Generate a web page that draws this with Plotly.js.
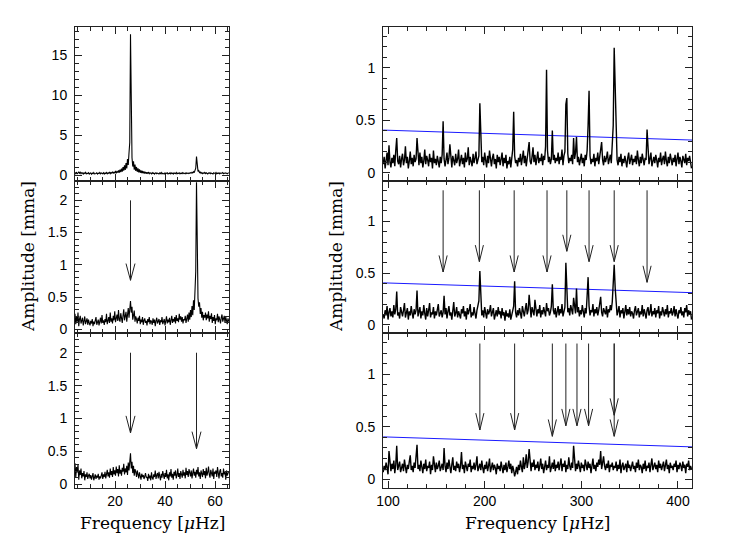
<!DOCTYPE html>
<html><head><meta charset="utf-8">
<script src="https://cdn.plot.ly/plotly-3.0.1.min.js"></script>
<style>html,body{margin:0;padding:0;background:#fff}#chart{width:736px;height:550px}</style>
</head><body><div id="chart"></div>
<script>
// ---------- frequency grids (muHz) ----------
const leftStart = 4.0, leftStep = 0.3;
const rightStart = 95, rightStep = 1.0;

// ---------- left column amplitudes (mma) ----------
const ampTopLeft = [
0.35,0.22,0.41,0.18,0.30,0.45,0.27,0.38,0.20,0.33,0.29,0.16,0.31,0.24,0.37,0.19,0.28,0.22,0.34,0.17,
0.26,0.31,0.15,0.29,0.21,0.35,0.18,0.27,0.24,0.32,0.16,0.28,0.23,0.36,0.19,0.30,0.25,0.21,0.33,0.18,
0.29,0.24,0.37,0.20,0.31,0.26,0.42,0.22,0.35,0.28,0.47,0.25,0.39,0.31,0.55,0.27,0.48,0.36,0.62,0.33,
0.71,0.40,0.85,0.46,1.02,0.58,1.25,0.69,1.55,0.88,2.05,1.30,2.80,4.10,
17.6,
3.90,2.20,1.10,1.75,0.70,1.35,0.55,1.05,0.45,0.88,0.38,0.74,0.33,0.62,0.29,0.55,0.26,0.50,0.24,0.44,0.22,
0.40,0.25,0.36,0.21,0.33,0.28,0.19,0.34,0.23,0.30,0.17,0.27,0.32,0.20,0.29,0.24,0.18,0.31,0.22,0.35,
0.19,0.27,0.24,0.16,0.30,0.21,0.28,0.33,0.18,0.25,0.29,0.20,0.34,0.23,0.27,0.17,0.31,0.24,0.22,0.36,
0.19,0.28,0.25,0.32,0.18,0.27,0.23,0.35,0.21,0.30,0.26,0.19,0.33,0.24,0.29,0.22,0.31,0.26,0.34,0.28,
0.38,0.30,0.46,0.35,0.62,0.90,
2.35,
0.85,0.50,0.60,0.34,0.42,0.26,0.35,0.22,0.31,0.26,0.37,0.22,0.33,0.28,0.19,0.31,0.25,0.35,0.21,0.29,
0.24,0.18,0.32,0.27,0.22,0.36,0.20,0.28,0.25,0.33,0.19,0.30,0.23,0.27,0.35,0.21,0.29,0.24,0.31,0.26,0.20,0.28,0.34
];
const ampMidLeft = [
0.24,0.08,0.19,0.12,0.26,0.05,0.16,0.21,0.09,0.14,0.18,0.06,0.13,0.20,0.08,0.11,0.17,0.07,0.15,0.10,
0.06,0.13,0.09,0.16,0.05,0.12,0.08,0.14,0.19,0.07,0.11,0.15,0.06,0.13,0.18,0.09,0.22,0.10,0.14,0.07,
0.16,0.11,0.24,0.08,0.13,0.19,0.10,0.26,0.12,0.17,0.09,0.21,0.14,0.28,0.11,0.18,0.23,0.13,0.30,0.15,
0.12,0.25,0.17,0.10,0.21,0.31,0.14,0.19,0.27,0.12,0.24,0.33,0.18,0.29,
0.44,
0.26,0.35,0.15,0.22,0.29,0.12,0.20,0.16,0.09,0.18,0.13,0.21,0.08,0.15,0.11,0.19,0.07,0.14,0.17,0.10,0.13,
0.06,0.16,0.11,0.19,0.08,0.14,0.12,0.07,0.17,0.10,0.15,0.05,0.13,0.18,0.09,0.12,0.16,0.07,0.14,0.11,
0.19,0.08,0.13,0.16,0.06,0.12,0.20,0.09,0.15,0.11,0.18,0.07,0.14,0.21,0.10,0.16,0.12,0.19,0.09,0.22,
0.13,0.17,0.11,0.24,0.15,0.20,0.12,0.19,0.09,0.16,0.14,0.21,0.10,0.18,0.23,0.12,0.26,0.15,0.30,0.19,
0.36,0.22,0.45,0.30,0.57,0.90,
2.28,
0.85,0.48,0.35,0.42,0.24,0.33,0.18,0.27,0.14,0.22,0.18,0.26,0.14,0.23,0.17,0.28,0.12,0.21,0.16,0.25,
0.10,0.19,0.13,0.22,0.08,0.17,0.14,0.24,0.11,0.20,0.15,0.09,0.18,0.23,0.12,0.16,0.21,0.10,0.19,0.14,0.08,0.17,0.12
];
const ampBotLeft = [
0.32,0.10,0.26,0.18,0.30,0.07,0.21,0.14,0.24,0.09,0.17,0.12,0.20,0.06,0.15,0.11,0.18,0.08,0.13,0.16,
0.09,0.14,0.07,0.12,0.17,0.06,0.11,0.15,0.08,0.13,0.10,0.16,0.07,0.12,0.09,0.14,0.18,0.08,0.15,0.11,
0.19,0.09,0.16,0.22,0.12,0.18,0.10,0.24,0.14,0.20,0.11,0.26,0.15,0.21,0.13,0.27,0.17,0.23,0.12,0.29,
0.16,0.22,0.13,0.25,0.19,0.31,0.15,0.24,0.18,0.28,0.14,0.33,0.21,0.30,
0.47,
0.24,0.34,0.17,0.28,0.13,0.23,0.19,0.11,0.21,0.15,0.09,0.18,0.13,0.07,0.16,0.11,0.14,0.08,0.12,0.17,0.10,
0.11,0.05,0.16,0.09,0.13,0.06,0.18,0.10,0.07,0.15,0.11,0.21,0.08,0.14,0.17,0.09,0.19,0.12,0.06,0.16,
0.10,0.20,0.13,0.08,0.17,0.11,0.22,0.09,0.15,0.06,0.18,0.12,0.23,0.10,0.16,0.07,0.19,0.13,0.21,0.09,
0.14,0.24,0.11,0.17,0.08,0.20,0.15,0.10,0.22,0.13,0.18,0.09,0.25,0.14,0.20,0.11,0.23,0.16,0.12,0.21,
0.09,0.17,0.24,0.13,0.19,0.10,0.22,0.15,0.26,0.12,0.18,0.08,0.21,0.16,0.11,0.23,0.14,0.20,0.09,0.25,
0.13,0.18,0.27,0.15,0.10,0.22,0.17,0.12,0.24,0.08,0.19,0.16,0.21,0.11,0.26,0.14,0.09,0.20,0.23,0.12,
0.17,0.10,0.24,0.15,0.19,0.07,0.21,0.13,0.16,0.20
];

// ---------- right column amplitudes (mma) ----------
const ampTopRight = [
0.08,0.15,0.04,0.12,0.19,0.07,0.26,0.10,0.05,0.14,0.09,0.17,0.06,0.21,0.33,0.11,0.08,0.16,0.05,0.13,
0.18,0.07,0.12,0.25,0.09,0.15,0.04,0.11,0.20,0.08,0.14,0.06,0.17,0.10,0.13,0.33,0.12,0.07,0.19,0.09,
0.15,0.05,0.11,0.22,0.08,0.16,0.12,0.06,0.18,0.10,0.14,0.04,0.21,0.09,0.13,0.07,0.16,0.11,0.05,0.15,
0.09,0.17,0.49,0.13,0.06,0.12,0.19,0.08,0.14,0.27,0.10,0.05,0.16,0.11,0.07,0.18,0.09,0.13,0.22,0.06,
0.12,0.17,0.08,0.14,0.05,0.19,0.10,0.13,0.24,0.07,0.15,0.11,0.06,0.18,0.09,0.14,0.20,0.08,0.12,0.16,
0.66,0.35,0.10,0.15,0.07,0.19,0.12,0.05,0.16,0.09,0.21,0.11,0.06,0.14,0.18,0.08,0.13,0.04,0.17,0.10,
0.15,0.07,0.12,0.19,0.06,0.14,0.09,0.17,0.04,0.11,0.08,0.15,0.05,0.13,0.22,0.58,0.16,0.09,0.12,0.06,
0.14,0.10,0.18,0.07,0.12,0.21,0.09,0.16,0.06,0.13,0.19,0.29,0.11,0.08,0.15,0.24,0.10,0.17,0.07,0.13,
0.20,0.09,0.14,0.11,0.18,0.07,0.16,0.12,0.25,0.98,0.21,0.10,0.15,0.08,0.13,0.40,0.12,0.17,0.09,0.14,
0.11,0.19,0.08,0.15,0.12,0.22,0.07,0.16,0.20,0.65,0.71,0.18,0.09,0.14,0.11,0.17,0.08,0.33,0.13,0.19,
0.34,0.10,0.15,0.07,0.13,0.18,0.09,0.14,0.06,0.17,0.12,0.21,0.45,0.78,0.16,0.08,0.13,0.10,0.18,0.06,
0.14,0.11,0.19,0.08,0.15,0.22,0.29,0.12,0.07,0.16,0.10,0.14,0.20,0.08,0.13,0.17,0.09,0.24,0.45,1.19,
0.80,0.22,0.12,0.07,0.15,0.10,0.18,0.06,0.13,0.09,0.16,0.11,0.05,0.14,0.19,0.08,0.12,0.17,0.07,0.13,
0.10,0.16,0.08,0.21,0.12,0.06,0.15,0.09,0.18,0.11,0.07,0.14,0.12,0.41,0.16,0.08,0.13,0.19,0.06,0.11,
0.15,0.09,0.17,0.12,0.05,0.14,0.10,0.19,0.07,0.13,0.16,0.08,0.20,0.11,0.06,0.15,0.09,0.18,0.12,0.07,
0.14,0.10,0.17,0.06,0.13,0.19,0.08,0.15,0.11,0.05,0.16,0.12,0.09,0.18,0.07,0.14,0.11,0.16,0.08,0.04
];
const ampMidRight = [
0.10,0.06,0.14,0.09,0.18,0.05,0.12,0.16,0.08,0.13,0.07,0.19,0.10,0.15,0.32,0.09,0.12,0.06,0.17,0.11,
0.08,0.14,0.21,0.07,0.12,0.16,0.05,0.13,0.09,0.18,0.11,0.06,0.15,0.10,0.14,0.33,0.08,0.12,0.17,0.06,
0.13,0.09,0.19,0.11,0.05,0.16,0.08,0.14,0.21,0.07,0.12,0.10,0.17,0.06,0.13,0.09,0.15,0.20,0.08,0.11,
0.14,0.07,0.12,0.28,0.10,0.16,0.06,0.13,0.18,0.09,0.12,0.05,0.15,0.22,0.08,0.11,0.17,0.07,0.13,0.10,
0.06,0.15,0.11,0.18,0.08,0.13,0.05,0.16,0.10,0.14,0.20,0.07,0.12,0.09,0.17,0.11,0.06,0.14,0.19,0.23,
0.52,0.21,0.09,0.14,0.07,0.17,0.11,0.06,0.15,0.10,0.13,0.19,0.08,0.12,0.16,0.05,0.11,0.14,0.08,0.17,
0.10,0.13,0.06,0.16,0.09,0.12,0.04,0.14,0.08,0.11,0.07,0.15,0.05,0.10,0.13,0.18,0.42,0.12,0.07,0.14,
0.09,0.16,0.11,0.06,0.18,0.13,0.08,0.15,0.21,0.10,0.14,0.29,0.12,0.07,0.17,0.11,0.09,0.24,0.13,0.08,
0.15,0.11,0.19,0.07,0.14,0.10,0.17,0.12,0.08,0.21,0.13,0.16,0.09,0.12,0.18,0.39,0.14,0.10,0.16,0.07,
0.13,0.18,0.09,0.15,0.11,0.20,0.08,0.14,0.17,0.60,0.24,0.12,0.16,0.09,0.19,0.13,0.10,0.26,0.15,0.11,
0.35,0.12,0.17,0.08,0.14,0.10,0.19,0.13,0.07,0.16,0.11,0.28,0.46,0.18,0.09,0.14,0.12,0.20,0.08,0.15,
0.11,0.17,0.09,0.14,0.20,0.27,0.12,0.08,0.16,0.13,0.10,0.18,0.07,0.15,0.12,0.19,0.14,0.22,0.50,0.58,
0.36,0.15,0.09,0.13,0.18,0.07,0.14,0.11,0.16,0.06,0.12,0.19,0.09,0.15,0.10,0.17,0.08,0.13,0.11,0.06,
0.14,0.18,0.09,0.12,0.16,0.07,0.13,0.10,0.19,0.08,0.15,0.11,0.06,0.14,0.17,0.09,0.12,0.20,0.08,0.13,
0.10,0.16,0.07,0.14,0.11,0.18,0.06,0.13,0.09,0.17,0.12,0.08,0.15,0.10,0.19,0.07,0.13,0.11,0.16,0.09,
0.12,0.18,0.08,0.15,0.10,0.06,0.14,0.11,0.17,0.09,0.13,0.07,0.16,0.12,0.19,0.08,0.14,0.10,0.13,0.05
];
const ampBotRight = [
0.07,0.13,0.09,0.16,0.11,0.05,0.27,0.12,0.08,0.15,0.10,0.18,0.06,0.14,0.32,0.09,0.13,0.17,0.07,0.11,
0.15,0.08,0.19,0.12,0.06,0.14,0.10,0.17,0.23,0.09,0.13,0.07,0.16,0.11,0.20,0.33,0.10,0.14,0.08,0.18,
0.12,0.06,0.15,0.10,0.19,0.08,0.13,0.11,0.17,0.05,0.14,0.09,0.22,0.12,0.07,0.16,0.10,0.13,0.18,0.08,
0.11,0.15,0.09,0.30,0.13,0.07,0.16,0.10,0.19,0.12,0.06,0.14,0.21,0.09,0.13,0.08,0.17,0.11,0.15,0.07,
0.13,0.26,0.10,0.14,0.06,0.17,0.11,0.08,0.15,0.12,0.19,0.07,0.13,0.10,0.16,0.09,0.14,0.22,0.08,0.12,
0.15,0.09,0.18,0.11,0.06,0.14,0.10,0.17,0.08,0.13,0.20,0.07,0.12,0.16,0.09,0.14,0.11,0.05,0.15,0.10,
0.13,0.08,0.17,0.11,0.06,0.14,0.09,0.16,0.07,0.12,0.18,0.10,0.15,0.06,0.13,0.09,0.03,0.07,0.12,0.05,
0.14,0.09,0.18,0.12,0.07,0.21,0.10,0.15,0.24,0.11,0.17,0.29,0.13,0.08,0.16,0.12,0.19,0.09,0.14,0.11,
0.17,0.08,0.13,0.20,0.10,0.15,0.06,0.12,0.18,0.09,0.14,0.11,0.22,0.07,0.13,0.16,0.10,0.19,0.08,0.14,
0.11,0.17,0.09,0.13,0.20,0.08,0.15,0.12,0.18,0.07,0.14,0.10,0.21,0.13,0.09,0.16,0.11,0.32,0.14,0.08,
0.15,0.10,0.18,0.12,0.07,0.16,0.11,0.14,0.08,0.19,0.13,0.09,0.17,0.11,0.15,0.06,0.13,0.20,0.10,0.14,
0.08,0.16,0.12,0.19,0.14,0.27,0.10,0.17,0.22,0.13,0.09,0.15,0.11,0.18,0.07,0.14,0.12,0.16,0.09,0.13,
0.11,0.17,0.08,0.14,0.10,0.19,0.06,0.13,0.16,0.09,0.12,0.15,0.07,0.18,0.11,0.14,0.08,0.12,0.17,0.10,
0.13,0.07,0.16,0.11,0.19,0.09,0.14,0.12,0.06,0.15,0.10,0.18,0.08,0.13,0.11,0.16,0.07,0.14,0.20,0.09,
0.12,0.16,0.10,0.14,0.07,0.18,0.11,0.15,0.09,0.13,0.17,0.08,0.12,0.19,0.10,0.14,0.06,0.16,0.11,0.13,
0.09,0.15,0.12,0.18,0.07,0.14,0.10,0.16,0.13,0.08,0.17,0.11,0.14,0.06,0.15,0.12,0.18,0.09,0.13,0.10
];

// ---------- significance threshold (blue line) ----------
const threshFreq = [95, 414.5];
const threshAmp = [0.405, 0.31];

// ---------- arrows: frequency, tip amplitude, top amplitude ----------
const arrowMidLeftF = [26.2];
const arrowMidLeftTip = [0.76];
const arrowMidLeftTop = [2.0];
const arrowBotLeftF = [26.2, 52.6];
const arrowBotLeftTip = [0.78, 0.54];
const arrowBotLeftTop = [2.0, 2.0];
const arrowMidRightF = [157, 194.5, 230.5, 264.5, 285, 308, 334, 368];
const arrowMidRightTip = [0.51, 0.61, 0.51, 0.51, 0.71, 0.61, 0.61, 0.41];
const arrowMidRightTop = [1.30, 1.30, 1.30, 1.30, 1.30, 1.30, 1.30, 1.30];
const arrowBotRightF = [195, 231, 270, 284, 295.5, 307.5, 334, 334];
const arrowBotRightTip = [0.47, 0.47, 0.41, 0.51, 0.51, 0.51, 0.61, 0.41];
const arrowBotRightTop = [1.29, 1.29, 1.29, 1.29, 1.29, 1.29, 1.29, 1.29];

// ---------- build ----------
function arrowTrace(fs, tips, tops, hw, hh, xa, ya) {
  const x = [], y = [];
  fs.forEach((f, k) => {
    x.push(f, f, null, f - hw, f, f + hw, null);
    y.push(tops[k], tips[k], null, tips[k] + hh, tips[k], tips[k] + hh, null);
  });
  return {x, y, xaxis: xa, yaxis: ya, mode: 'lines', line: {color: '#222', width: 1}, hoverinfo: 'skip', connectgaps: false};
}
function spec(y, x0, dx, xa, ya, w) {
  return {y, x0, dx, xaxis: xa, yaxis: ya, mode: 'lines', line: {color: '#000', width: w}, hoverinfo: 'skip'};
}
function thresh(xa, ya) {
  return {x: threshFreq, y: threshAmp, xaxis: xa, yaxis: ya, mode: 'lines', line: {color: '#1a1aff', width: 1}, hoverinfo: 'skip'};
}

const traces = [
  spec(ampTopLeft, leftStart, leftStep, 'x', 'y', 1.1),
  spec(ampMidLeft, leftStart, leftStep, 'x2', 'y2', 1.1),
  spec(ampBotLeft, leftStart, leftStep, 'x3', 'y3', 1.1),
  thresh('x4', 'y4'), thresh('x5', 'y5'), thresh('x6', 'y6'),
  spec(ampTopRight, rightStart, rightStep, 'x4', 'y4', 1.4),
  spec(ampMidRight, rightStart, rightStep, 'x5', 'y5', 1.4),
  spec(ampBotRight, rightStart, rightStep, 'x6', 'y6', 1.4),
  arrowTrace(arrowMidLeftF, arrowMidLeftTip, arrowMidLeftTop, 1.8, 0.26, 'x2', 'y2'),
  arrowTrace(arrowBotLeftF, arrowBotLeftTip, arrowBotLeftTop, 1.8, 0.26, 'x3', 'y3'),
  arrowTrace(arrowMidRightF, arrowMidRightTip, arrowMidRightTop, 4.2, 0.16, 'x5', 'y5'),
  arrowTrace(arrowBotRightF, arrowBotRightTip, arrowBotRightTop, 4.2, 0.16, 'x6', 'y6')
];

const tickFont = {family: 'Liberation Sans, Arial, sans-serif', size: 14, color: '#000'};
const colL = [75/736, 229/736], colR = [383/736, 692/736];
const rowT = [1 - 181/550, 1 - 26.7/550], rowM = [1 - 333/550, 1 - 181/550], rowB = [1 - 488/550, 1 - 333/550];

function xax(dom, range, dtick, minor, anchor, labels) {
  return {domain: dom, range, anchor, dtick, tick0: 0, ticks: 'inside', ticklen: 7, tickcolor: '#222',
    minor: {dtick: minor, tick0: 0, ticks: 'inside', ticklen: 4, tickcolor: '#222'},
    showline: true, linecolor: '#222', linewidth: 1, mirror: 'allticks', showgrid: false, zeroline: false,
    showticklabels: labels, tickfont: tickFont, ticklabelstandoff: 0, fixedrange: true};
}
function yax(dom, range, dtick, minor, anchor) {
  return {domain: dom, range, anchor, dtick, tick0: 0, ticks: 'inside', ticklen: 7, tickcolor: '#222',
    minor: {dtick: minor, tick0: 0, ticks: 'inside', ticklen: 4, tickcolor: '#222'},
    showline: true, linecolor: '#222', linewidth: 1, mirror: 'allticks', showgrid: false, zeroline: false,
    tickfont: tickFont, ticklabelstandoff: 4, fixedrange: true};
}
const xrL = [4.0, 65.6], xrR = [94.8, 414.5];
const yrTL = [-0.7, 18.55], yrL = [-0.057, 2.3], yrR = [-0.08, 1.39];

const titleFont = {family: 'DejaVu Serif, serif', size: 17, color: '#000'};
const layout = {
  width: 736, height: 550, margin: {l: 0, r: 0, t: 0, b: 0},
  paper_bgcolor: '#fff', plot_bgcolor: '#fff', showlegend: false,
  xaxis: xax(colL, xrL, 20, 5, 'y', false),
  xaxis2: xax(colL, xrL, 20, 5, 'y2', false),
  xaxis3: xax(colL, xrL, 20, 5, 'y3', true),
  xaxis4: xax(colR, xrR, 100, 20, 'y4', false),
  xaxis5: xax(colR, xrR, 100, 20, 'y5', false),
  xaxis6: xax(colR, xrR, 100, 20, 'y6', true),
  yaxis: yax(rowT, yrTL, 5, 1, 'x'),
  yaxis2: yax(rowM, yrL, 0.5, 0.1, 'x2'),
  yaxis3: yax(rowB, yrL, 0.5, 0.1, 'x3'),
  yaxis4: yax(rowT, yrR, 0.5, 0.1, 'x4'),
  yaxis5: yax(rowM, yrR, 0.5, 0.1, 'x5'),
  yaxis6: yax(rowB, yrR, 0.5, 0.1, 'x6'),
  annotations: [
    {text: 'Frequency [<i>μ</i>Hz]', xref: 'paper', yref: 'paper', x: 152/736, y: 1 - 523/550, xanchor: 'center', yanchor: 'middle', showarrow: false, font: titleFont},
    {text: 'Frequency [<i>μ</i>Hz]', xref: 'paper', yref: 'paper', x: 537.5/736, y: 1 - 523/550, xanchor: 'center', yanchor: 'middle', showarrow: false, font: titleFont},
    {text: 'Amplitude [mma]', xref: 'paper', yref: 'paper', x: 28/736, y: 1 - 257/550, xanchor: 'center', yanchor: 'middle', textangle: -90, showarrow: false, font: titleFont},
    {text: 'Amplitude [mma]', xref: 'paper', yref: 'paper', x: 336/736, y: 1 - 257/550, xanchor: 'center', yanchor: 'middle', textangle: -90, showarrow: false, font: titleFont}
  ]
};
Plotly.newPlot('chart', traces, layout, {staticPlot: true, displayModeBar: false});
</script>
</body></html>
